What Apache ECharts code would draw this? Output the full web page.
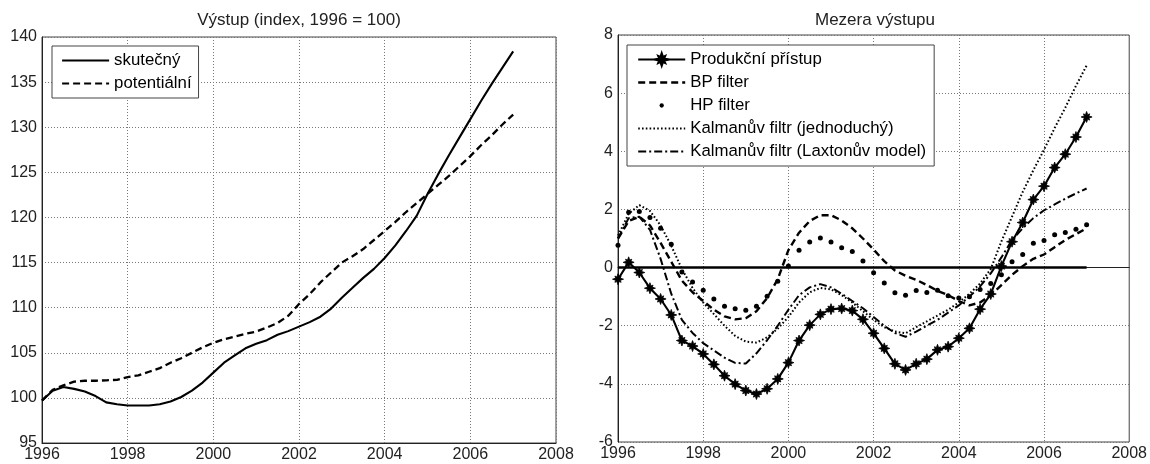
<!DOCTYPE html>
<html>
<head>
<meta charset="utf-8">
<script src="https://cdn.jsdelivr.net/npm/echarts@6/dist/echarts.min.js"></script>
<style>
  html, body { margin: 0; padding: 0; background: #fff; }
  #chart { width: 1150px; height: 464px; }
</style>
</head>
<body>
<div id="chart"></div>
<script>
// Quarterly observations, 1996 Q1 .. 2007 Q1
const startYear = 1996;
const periodCount = 45;
const periods = Array.from({ length: periodCount }, (_, i) => startYear + i / 4);

const xTicks = [1996, 1998, 2000, 2002, 2004, 2006, 2008];

// Left panel: output index (1996 = 100)
const outputActual = [
  99.7, 100.8, 101.2, 101.0,
  100.7, 100.2, 99.5, 99.3,
  99.15, 99.15, 99.15, 99.3,
  99.6, 100.1, 100.8, 101.7,
  102.8, 103.9, 104.7, 105.5,
  106.0, 106.4, 107.0, 107.4,
  107.9, 108.4, 109.0, 109.9,
  111.1, 112.2, 113.3, 114.3,
  115.5, 116.9, 118.5, 120.2,
  122.6, 124.8, 126.9, 128.9,
  130.9, 132.9, 134.8, 136.6,
  138.4
];
const outputPotential = [
  99.7, 100.9, 101.4, 101.8,
  101.9, 101.9, 101.95, 102.0,
  102.3, 102.5, 102.9, 103.3,
  103.9, 104.4, 105.0, 105.6,
  106.1, 106.5, 106.8, 107.1,
  107.35, 107.8, 108.3, 109.1,
  110.4, 111.5, 112.8, 113.9,
  115.0, 115.7, 116.5, 117.5,
  118.5, 119.5, 120.6, 121.6,
  122.6, 123.6, 124.6, 125.7,
  126.8, 128.0, 129.1, 130.3,
  131.4
];

// Right panel: output gap estimates (%)
const gapProduction = [
  -0.40, 0.18, -0.17, -0.71,
  -1.08, -1.63, -2.51, -2.70,
  -2.97, -3.33, -3.72, -4.01,
  -4.23, -4.35, -4.17, -3.83,
  -3.27, -2.51, -1.98, -1.61,
  -1.43, -1.41, -1.48, -1.78,
  -2.26, -2.78, -3.31, -3.52,
  -3.31, -3.15, -2.83, -2.72,
  -2.43, -2.09, -1.43, -0.91,
  0.05, 0.89, 1.55, 2.34,
  2.80, 3.44, 3.90, 4.49,
  5.18
];
const gapBP = [
  1.0, 1.6, 1.75, 1.45,
  0.85, 0.2, -0.45, -0.85,
  -1.15, -1.45, -1.68, -1.78,
  -1.74, -1.5, -1.05, -0.4,
  0.6, 1.2, 1.6, 1.8,
  1.8, 1.62, 1.35, 1.0,
  0.62, 0.22, -0.1, -0.28,
  -0.42, -0.6, -0.8, -0.95,
  -1.15, -1.3, -1.2, -0.95,
  -0.6, -0.25, 0.05, 0.3,
  0.45, 0.7, 0.95, 1.15,
  1.35
];
const gapHP = [
  0.77, 1.9, 1.93, 1.72,
  1.35, 0.8, -0.15, -0.5,
  -0.78, -1.08, -1.33, -1.42,
  -1.47, -1.33, -0.99, -0.47,
  0.05, 0.6, 0.88, 1.02,
  0.88, 0.68, 0.55, 0.23,
  -0.18, -0.53, -0.87, -0.95,
  -0.79, -0.86, -0.78, -0.97,
  -1.05, -1.0, -0.75, -0.55,
  -0.25, 0.2, 0.45, 0.84,
  0.93, 1.13, 1.21, 1.32,
  1.47
];
const gapKalmanSimple = [
  1.1, 1.85, 2.15, 1.95,
  1.45, 0.75, -0.05, -0.7,
  -1.2, -1.6, -2.0, -2.35,
  -2.55, -2.58, -2.4, -2.1,
  -1.7, -1.2, -0.85, -0.7,
  -0.75, -0.95, -1.2, -1.5,
  -1.8, -2.05, -2.2, -2.26,
  -2.05, -1.85, -1.65, -1.45,
  -1.2, -0.9, -0.55, -0.05,
  0.9, 1.75, 2.6, 3.35,
  4.05, 4.8, 5.5, 6.25,
  6.95
];
const gapKalmanLaxton = [
  1.0, 1.7, 1.75, 1.3,
  0.3, -0.9, -1.8, -2.25,
  -2.6, -2.85, -3.1, -3.28,
  -3.3, -2.95, -2.5, -2.0,
  -1.45, -0.95, -0.68, -0.57,
  -0.68, -0.9, -1.15, -1.4,
  -1.7, -2.0, -2.25, -2.38,
  -2.2, -2.0, -1.8, -1.55,
  -1.3, -1.0, -0.65, -0.2,
  0.35, 0.95, 1.35, 1.7,
  1.97, 2.17, 2.37, 2.55,
  2.72
];
const zeroLine = [0, 0];
const zeroLineYears = [1996, 2007];

const leftTitle = 'Výstup (index, 1996 = 100)';
const rightTitle = 'Mezera výstupu';
const leftNames = ['skutečný', 'potentiální'];
const rightNames = ['Produkční přístup', 'BP filter', 'HP filter',
  'Kalmanův filtr (jednoduchý)', 'Kalmanův filtr (Laxtonův model)'];

const FONT = "'Liberation Sans', Arial, sans-serif";
const INK = '#000';
const GRID_INK = '#777';
const pairs = vals => vals.map((v, i) => [periods[i], v]);

// Bold plus/asterisk marker and a small dot inside a wider box
const starSymbol = 'path://M10 5L7.1 6L7.83 7.83L6 7.1L5 10L4 7.1L2.17 7.83L2.9 6L0 5L2.9 4L2.17 2.17L4 2.9L5 0L6 2.9L7.83 2.17L7.1 4Z';
const dotSymbol = 'path://M0 0M12 12M6 4A2 2 0 1 1 6 8A2 2 0 1 1 6 4Z';

function xAxisFor(gridIndex) {
  return {
    type: 'value', gridIndex, min: 1996, max: 2008, interval: 2,
    axisLine: { show: true, lineStyle: { color: '#222', width: 1 } },
    axisTick: { show: false },
    axisLabel: { fontSize: 16, color: '#222', fontFamily: FONT, margin: 4,
      formatter: v => xTicks.includes(v) ? String(v) : '' },
    splitLine: { show: true, lineStyle: { color: GRID_INK, width: 1, type: [1, 2] } }
  };
}
function yAxisFor(gridIndex, min, max, interval) {
  return {
    type: 'value', gridIndex, min, max, interval,
    axisLine: { show: true, lineStyle: { color: '#222', width: 1 } },
    axisTick: { show: false },
    axisLabel: { fontSize: 16, color: '#222', fontFamily: FONT, margin: 5 },
    splitLine: { show: true, lineStyle: { color: GRID_INK, width: 1, type: [1, 2] } }
  };
}

const plain = { symbol: 'none', showSymbol: false };
const hiddenIcon = { opacity: 0 };

const legendBase = {
  orient: 'vertical', itemGap: 6, itemWidth: 47, itemHeight: 16,
  borderColor: '#444', borderWidth: 1, borderRadius: 0, backgroundColor: '#fff',
  selectedMode: false,
  textStyle: { fontSize: 16.8, color: '#000', fontFamily: FONT, lineHeight: 16 }
};

const option = {
  animation: false,
  backgroundColor: '#fff',
  grid: [
    { left: 42, top: 37, width: 514, height: 406, show: true, borderColor: '#444', borderWidth: 1 },
    { left: 618, top: 35, width: 514, height: 407, show: true, borderColor: '#444', borderWidth: 1 }
  ],
  xAxis: [xAxisFor(0), xAxisFor(1)],
  yAxis: [yAxisFor(0, 95, 140, 5), yAxisFor(1, -6, 8, 2)],
  graphic: [
    { type: 'text', x: 299, y: 20, style: { text: leftTitle, fontSize: 17, fontFamily: FONT, fill: '#222', textAlign: 'center', textVerticalAlign: 'middle' } },
    { type: 'text', x: 875, y: 20, style: { text: rightTitle, fontSize: 17, fontFamily: FONT, fill: '#222', textAlign: 'center', textVerticalAlign: 'middle' } }
  ],
  legend: [
    Object.assign({}, legendBase, {
      left: 52, top: 46, padding: [6, 7, 6, 9],
      data: [
        { name: leftNames[0], itemStyle: hiddenIcon, lineStyle: { width: 2.2 } },
        { name: leftNames[1], itemStyle: hiddenIcon, lineStyle: { width: 2.2 } }
      ]
    }),
    Object.assign({}, legendBase, {
      left: 627, top: 45, padding: [6, 8, 6, 10],
      data: [
        { name: rightNames[0], lineStyle: { width: 2.2 } },
        { name: rightNames[1], itemStyle: hiddenIcon, lineStyle: { width: 2.4 } },
        { name: rightNames[2] },
        { name: rightNames[3], itemStyle: hiddenIcon, lineStyle: { width: 2 } },
        { name: rightNames[4], itemStyle: hiddenIcon, lineStyle: { width: 2 } }
      ]
    })
  ],
  series: [
    Object.assign({ name: leftNames[0], type: 'line', xAxisIndex: 0, yAxisIndex: 0,
      data: pairs(outputActual), color: INK,
      lineStyle: { color: INK, width: 2.1 } }, plain),
    Object.assign({ name: leftNames[1], type: 'line', xAxisIndex: 0, yAxisIndex: 0,
      data: pairs(outputPotential), color: INK,
      lineStyle: { color: INK, width: 2.3, type: [7, 4] } }, plain),

    { name: 'nula', type: 'line', xAxisIndex: 1, yAxisIndex: 1, silent: true,
      data: zeroLineYears.map((y, i) => [y, zeroLine[i]]), color: INK,
      symbol: 'none', lineStyle: { color: INK, width: 2.6 }, z: 1 },

    { name: rightNames[0], type: 'line', xAxisIndex: 1, yAxisIndex: 1,
      data: pairs(gapProduction), color: INK, symbol: starSymbol, symbolSize: 11,
      showAllSymbol: true,
      itemStyle: { color: INK, borderColor: INK, borderWidth: 0.8 },
      lineStyle: { color: INK, width: 2.1 }, z: 5 },
    Object.assign({ name: rightNames[1], type: 'line', xAxisIndex: 1, yAxisIndex: 1,
      data: pairs(gapBP), color: INK,
      lineStyle: { color: INK, width: 2.4, type: [7, 4] } }, plain),
    { name: rightNames[2], type: 'line', xAxisIndex: 1, yAxisIndex: 1,
      data: pairs(gapHP), color: INK, symbol: dotSymbol, symbolSize: 15,
      showAllSymbol: true,
      itemStyle: { color: INK },
      lineStyle: { width: 0, opacity: 0 } },
    Object.assign({ name: rightNames[3], type: 'line', xAxisIndex: 1, yAxisIndex: 1,
      data: pairs(gapKalmanSimple), color: INK,
      lineStyle: { color: INK, width: 2, type: [1.6, 2.2] } }, plain),
    Object.assign({ name: rightNames[4], type: 'line', xAxisIndex: 1, yAxisIndex: 1,
      data: pairs(gapKalmanLaxton), color: INK,
      lineStyle: { color: INK, width: 2, type: [8, 3, 2, 3] } }, plain)
  ]
};

const chart = echarts.init(document.getElementById('chart'), null, { renderer: 'canvas' });
chart.setOption(option);
</script>
</body>
</html>
